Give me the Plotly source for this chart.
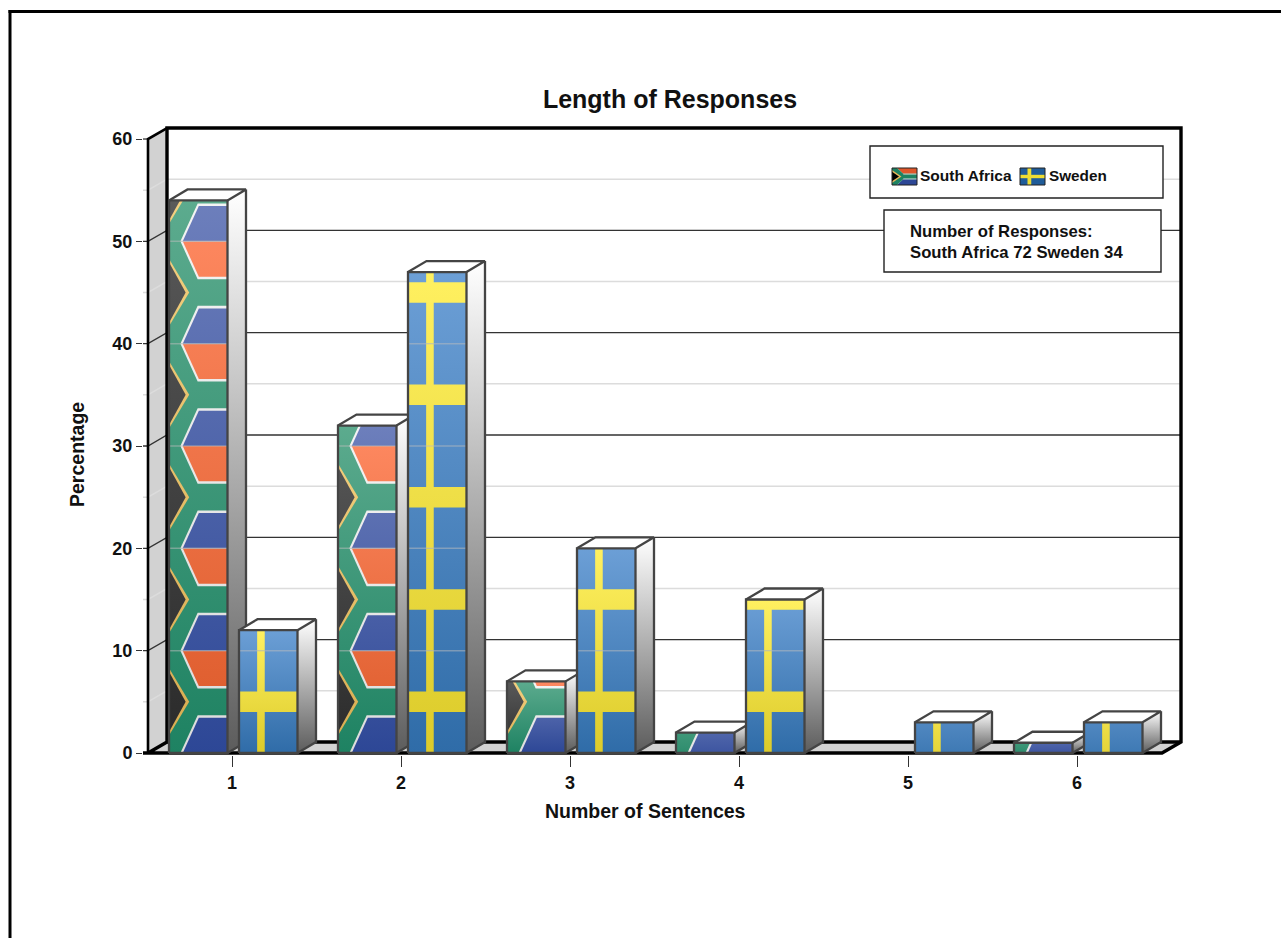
import plotly.graph_objects as go

# Survey data: share of responses by sentence count
categories = [1, 2, 3, 4, 5, 6]
south_africa = [54, 32, 7, 2, 0, 1]
sweden = [12, 47, 20, 15, 3, 3]
y_major = [0, 10, 20, 30, 40, 50, 60]
y_minor = [5, 15, 25, 35, 45, 55]

TITLE = "Length of Responses"
X_TITLE = "Number of Sentences"
Y_TITLE = "Percentage"
NOTE_LINES = ["Number of Responses:", "South Africa 72 Sweden 34"]

# Page geometry: the plot area is a little larger than the drawn box so that
# its heavy outline keeps its full width on every side.
W, H = 1281, 938
LEFT, RIGHT, TOP, BOTTOM = 143, 1190, 118, 755
ORIGIN_X, ORIGIN_Y = 148, 753
PX_X = 169.0                # pixels per category
PX_Y = 10.233               # pixels per percentage point
X0 = 1 - (232 - ORIGIN_X) / PX_X
X1 = X0 + (1181 - ORIGIN_X) / PX_X
X_RANGE = [1 - (232 - LEFT) / PX_X, 1 + (RIGHT - 232) / PX_X]
Y_RANGE = [(ORIGIN_Y - BOTTOM) / PX_Y, (ORIGIN_Y - TOP) / PX_Y]

# Oblique depth of the box and the bars, in data units
WALL_DX, WALL_DY = 19 / PX_X, 11 / PX_Y
BAR_DX, BAR_DY = 18.5 / PX_X, 11 / PX_Y
BAR_W = 58.5 / PX_X
OFFSET_SA, OFFSET_SE = -63 / PX_X, 7 / PX_X
TILE = 10                   # one flag repeats every 10 percentage points

EDGE = "#444444"
WALL = "#d2d2d2"

# Flag colours as (foot of the bar, head of the bar)
GREEN = ("#1e8262", "#5cab8e")
BLUE = ("#2d4796", "#6d7fbc")
RED = ("#dc5a2a", "#ff8a62")
PALE = ("#dcdcdc", "#f4f4f4")
GOLD = ("#d8ac50", "#f4d080")
DARK = ("#2a2a2a", "#5a5a5a")
SKY = ("#2f6ca8", "#6c9fd6")
YELLOW = ("#dccb2a", "#fff060")

fig = go.Figure()


def mix(pair, t):
    a = [int(pair[0][i:i + 2], 16) for i in (1, 3, 5)]
    b = [int(pair[1][i:i + 2], 16) for i in (1, 3, 5)]
    return "rgb({},{},{})".format(*[round(p + (q - p) * t) for p, q in zip(a, b)])


def poly(points, fill=None, line=None, width=0, gradient=None):
    """Add one closed polygon given as (x, y) pairs in axis units."""
    xs = [p[0] for p in points] + [points[0][0]]
    ys = [p[1] for p in points] + [points[0][1]]
    kw = dict(x=xs, y=ys, mode="lines", fill="toself", hoverinfo="skip",
              showlegend=False, cliponaxis=False)
    kw["line"] = dict(color=line or "rgba(0,0,0,0)", width=width)
    if gradient:
        kw["fillgradient"] = gradient
    else:
        kw["fillcolor"] = fill or "rgba(0,0,0,0)"
    fig.add_trace(go.Scatter(**kw))


def seg(xs, ys, color, width):
    fig.add_trace(go.Scatter(x=xs, y=ys, mode="lines", hoverinfo="skip",
                             line=dict(color=color, width=width),
                             showlegend=False, cliponaxis=False))


def clip_top(points, top):
    """Cut a convex polygon at y = top."""
    out = []
    for i, (x0, y0) in enumerate(points):
        x1, y1 = points[(i + 1) % len(points)]
        if y0 <= top:
            out.append((x0, y0))
        if (y0 <= top) != (y1 <= top):
            t = (top - y0) / (y1 - y0)
            out.append((x0 + t * (x1 - x0), top))
    return out


# Flag artwork: colour, polygon in tile fractions (u across, v up), painted in order
LAYERS_SOUTH_AFRICA = [
    (PALE, [(0.195, 1), (1, 1), (1, 0.63), (0.49, 0.63)]),
    (RED, [(0.235, 1), (1, 1), (1, 0.655), (0.51, 0.655)]),
    (PALE, [(0.195, 0), (1, 0), (1, 0.37), (0.49, 0.37)]),
    (BLUE, [(0.235, 0), (1, 0), (1, 0.345), (0.51, 0.345)]),
    (GOLD, [(0, 0.17), (0.345, 0.5), (0, 0.83)]),
    (DARK, [(0, 0.205), (0.285, 0.5), (0, 0.795)]),
]
LAYERS_SWEDEN = [
    (YELLOW, [(0.31, 0), (0.44, 0), (0.44, 1), (0.31, 1)]),
    (YELLOW, [(0, 0.4), (1, 0.4), (1, 0.6), (0, 0.6)]),
]


def draw_bar(left, value, base, layers):
    """One oblique bar: side and top, flag tiles on the front, then edges."""
    if value <= 0:
        return
    right = left + BAR_W
    # Stubby bars show only a narrow part of the shading
    foot, head = (0.0, 1.0) if value >= 7 else (0.25, 0.55)

    def shaded(pair):
        return dict(type="vertical", start=0, stop=value,
                    colorscale=[[0, mix(pair, foot)], [1, mix(pair, head)]])

    poly([(right, 0), (right + BAR_DX, BAR_DY),
          (right + BAR_DX, value + BAR_DY), (right, value)],
         gradient=dict(type="vertical", start=0, stop=value + BAR_DY,
                       colorscale=[[0, "#5c5c5c"], [1, "#ffffff"]]))
    poly([(left, value), (right, value), (right + BAR_DX, value + BAR_DY),
          (left + BAR_DX, value + BAR_DY)], fill="#ffffff")
    poly([(left, 0), (right, 0), (right, value), (left, value)], gradient=shaded(base))
    tile = 0
    while tile < value:
        for pair, shape in layers:
            pts = [(left + u * BAR_W, tile + v * TILE) for u, v in shape]
            pts = clip_top(pts, value)
            if len(pts) >= 3:
                poly(pts, gradient=shaded(pair))
        tile += TILE
    seam = TILE
    while seam < value:
        seg([left, right], [seam, seam], "rgba(190,190,190,0.5)", 1.5)
        seam += TILE
    poly([(left, 0), (right, 0), (right, value), (left, value)], line=EDGE, width=2.3)
    seg([left, left + BAR_DX, right + BAR_DX, right],
        [value, value + BAR_DY, value + BAR_DY, value], EDGE, 2.3)
    seg([right + BAR_DX, right + BAR_DX, right],
        [value + BAR_DY, BAR_DY, 0], EDGE, 2.3)


# Box: left wall and floor
poly([(X0, 0), (X0 + WALL_DX, WALL_DY), (X0 + WALL_DX, 60 + WALL_DY), (X0, 60)], fill=WALL)
poly([(X0, 0), (X1 - WALL_DX, 0), (X1, WALL_DY), (X0 + WALL_DX, WALL_DY)], fill=WALL)

# Grid on the walls, with short stubs joining the axis ticks
for v in y_minor:
    seg([X_RANGE[0], X0, X0 + WALL_DX, X1], [v, v, v + WALL_DY, v + WALL_DY], "#dcdcdc", 1.5)
for v in y_major[1:-1]:
    seg([X_RANGE[0], X0, X0 + WALL_DX, X1], [v, v, v + WALL_DY, v + WALL_DY], "#333333", 1.3)
seg([X_RANGE[0], X0], [60, 60], "#333333", 1.3)

# Heavy outline of the box
seg([X0 + WALL_DX, X0 + WALL_DX, X1, X1, X1 - WALL_DX, X_RANGE[0], X0, X0 + WALL_DX],
    [WALL_DY, 60 + WALL_DY, 60 + WALL_DY, WALL_DY, 0, 0, 0, WALL_DY], "#000000", 3.4)
seg([X0 + WALL_DX, X1], [WALL_DY, WALL_DY], "#000000", 3.4)
seg([X0, X0, X0 + WALL_DX], [0, 60, 60 + WALL_DY], "#000000", 2.6)

# Bars, back to front
for cat, sa, se in zip(categories, south_africa, sweden):
    draw_bar(cat + OFFSET_SA, sa, GREEN, LAYERS_SOUTH_AFRICA)
    draw_bar(cat + OFFSET_SE, se, SKY, LAYERS_SWEDEN)


def px_x(x):
    return (x - LEFT) / (RIGHT - LEFT)


def px_y(y):
    return (BOTTOM - y) / (BOTTOM - TOP)


def flag_shapes(x, y, w, h, parts):
    """Small legend swatch built from filled paths in page pixels."""
    out = []
    for color, pts in parts:
        d = "M" + " L".join(f"{px_x(x + u * w):.5f},{px_y(y + v * h):.5f}" for u, v in pts) + " Z"
        out.append(dict(type="path", xref="paper", yref="paper", path=d,
                        fillcolor=color, line_width=0, layer="above"))
    out.append(dict(type="rect", xref="paper", yref="paper",
                    x0=px_x(x), x1=px_x(x + w), y0=px_y(y), y1=px_y(y + h),
                    line=dict(color="#222222", width=1), layer="above"))
    return out


def box(x0, y0, x1, y1):
    return dict(type="rect", xref="paper", yref="paper",
                x0=px_x(x0), x1=px_x(x1), y0=px_y(y0), y1=px_y(y1),
                fillcolor="#ffffff", line=dict(color="#222222", width=1.4), layer="above")


SA_SWATCH = [
    ("#e0562a", [(0, 0), (1, 0), (1, 0.34), (0.45, 0.34), (0.2, 0)]),
    ("#2d4796", [(0, 1), (1, 1), (1, 0.66), (0.45, 0.66), (0.2, 1)]),
    ("#1e8262", [(0, 0), (0.2, 0), (0.45, 0.34), (1, 0.34), (1, 0.66), (0.45, 0.66), (0.2, 1), (0, 1)]),
    ("#f0f0f0", [(0.45, 0.34), (1, 0.34), (1, 0.38), (0.45, 0.38)]),
    ("#f0f0f0", [(0.45, 0.62), (1, 0.62), (1, 0.66), (0.45, 0.66)]),
    ("#e8b85a", [(0, 0.12), (0.38, 0.5), (0, 0.88)]),
    ("#000000", [(0, 0.22), (0.28, 0.5), (0, 0.78)]),
]
SE_SWATCH = [
    ("#1f5c99", [(0, 0), (1, 0), (1, 1), (0, 1)]),
    ("#eedd33", [(0.3, 0), (0.45, 0), (0.45, 1), (0.3, 1)]),
    ("#eedd33", [(0, 0.4), (1, 0.4), (1, 0.6), (0, 0.6)]),
]

shapes = [
    # Page frame, open towards the lower right
    dict(type="line", xref="paper", yref="paper", x0=px_x(8.5), x1=px_x(1281),
         y0=px_y(11.5), y1=px_y(11.5), line=dict(color="#000000", width=3)),
    dict(type="line", xref="paper", yref="paper", x0=px_x(10), x1=px_x(10),
         y0=px_y(10), y1=px_y(938), line=dict(color="#000000", width=3)),
    box(870, 146, 1163, 198),
    box(884, 210, 1161, 272),
]
shapes += flag_shapes(892, 168, 25, 17, SA_SWATCH)
shapes += flag_shapes(1020, 168, 25, 17, SE_SWATCH)

FONT = "Liberation Sans"
INK = "#111111"


def note(text, x, y, size, anchor="left", angle=0):
    return dict(text=f"<b>{text}</b>", xref="paper", yref="paper", x=px_x(x), y=px_y(y),
                xanchor=anchor, yanchor="middle", showarrow=False, textangle=angle,
                font=dict(family=FONT, size=size, color=INK))


annotations = [
    note("South Africa", 918, 175, 15.5),
    note("Sweden", 1047, 175, 15.3),
    note(NOTE_LINES[0], 908, 232, 16.7),
    note(NOTE_LINES[1], 908, 252, 16.7),
    note(X_TITLE, 645, 811, 19.5, anchor="center"),
    note(Y_TITLE, 77, 455, 19.5, anchor="center", angle=-90),
]

fig.update_layout(
    width=W, height=H, autosize=False,
    margin=dict(l=LEFT, r=W - RIGHT, t=TOP, b=H - BOTTOM, pad=0),
    paper_bgcolor="#ffffff", plot_bgcolor="#ffffff",
    showlegend=False,
    font=dict(family=FONT, color=INK),
    title=dict(text=f"<b>{TITLE}</b>", x=670 / W, xanchor="center", y=1 - 99 / H,
               yanchor="middle", font=dict(family=FONT, size=25, color=INK)),
    xaxis=dict(range=X_RANGE, tickvals=categories, ticktext=[f"<b>{c}</b>" for c in categories],
               ticks="outside", ticklen=11, tickwidth=1.3, tickcolor="#333333",
               showgrid=False, zeroline=False, showline=False,
               tickfont=dict(family=FONT, size=18, color=INK)),
    yaxis=dict(range=Y_RANGE, tickvals=y_major, ticktext=[f"<b>{v}</b>" for v in y_major],
               ticks="outside", ticklen=6, tickwidth=1.3, tickcolor="#333333",
               showgrid=False, zeroline=False, showline=False,
               tickfont=dict(family=FONT, size=18, color=INK)),
    shapes=shapes,
    annotations=annotations,
)

fig.write_html("out.html")
